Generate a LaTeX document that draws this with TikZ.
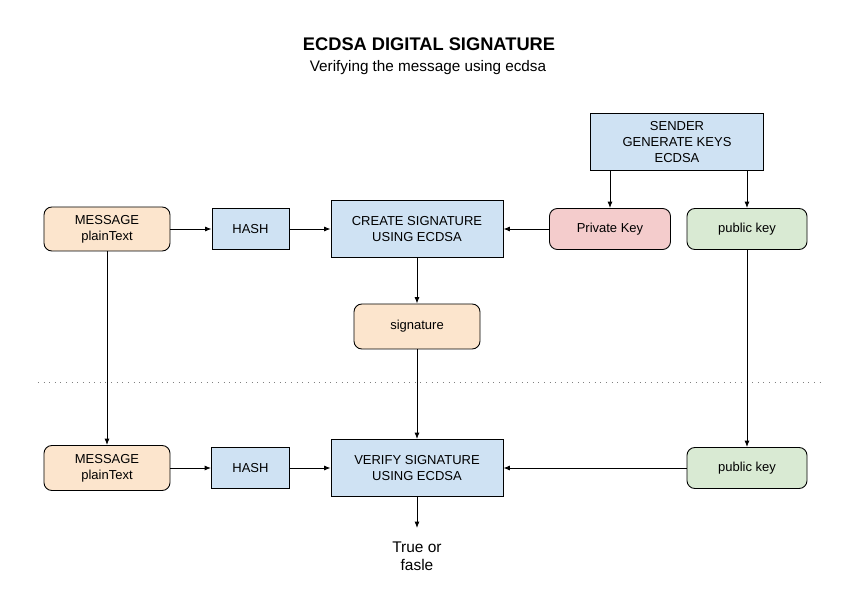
\documentclass[tikz,border=0pt]{standalone}
\usepackage{fontspec}
\setmainfont{Liberation Sans}
\usetikzlibrary{positioning}
\usetikzlibrary{arrows.meta}

\definecolor{msgorange}{HTML}{FCE5CD}
\definecolor{procblue}{HTML}{CFE2F3}
\definecolor{privred}{HTML}{F4CCCC}
\definecolor{pubgreen}{HTML}{D9EAD3}

\tikzset{
  box/.style={rectangle, draw, fill=procblue, align=center, inner sep=0pt,
    font=\fontsize{7.4}{8.9}\selectfont},
  rbox/.style={box, rounded corners=4.5pt},
}

\begin{document}
\begin{tikzpicture}[>={Latex[length=3.6pt,width=2.8pt]}, line width=0.5pt, node distance=2.86cm, on grid, auto]
   \useasboundingbox (0,0) rectangle (17.22,-12.28);
   \node[anchor=base, font=\bfseries\fontsize{10.4}{12}\selectfont] (title) at (8.58,-1.02) {ECDSA DIGITAL SIGNATURE};
   \node[anchor=base, font=\fontsize{8.7}{10}\selectfont] (subtitle) at (8.56,-1.44) {Verifying the message using ecdsa};
   % signing side
   \node[rbox, fill=msgorange, minimum width=2.52cm, minimum height=0.88cm] (msg) at (2.14,-4.58) {MESSAGE\\plainText};
   \node[box, minimum width=1.54cm, minimum height=0.82cm] (hash) [right=2.87cm of msg] {HASH};
   \node[box, minimum width=3.44cm, minimum height=1.14cm] (create) [right=3.33cm of hash] {CREATE SIGNATURE\\USING ECDSA};
   \node[rbox, fill=privred, minimum width=2.42cm, minimum height=0.82cm] (priv) [right=3.86cm of create] {Private Key};
   \node[rbox, fill=pubgreen, minimum width=2.4cm, minimum height=0.82cm] (pub) [right=2.74cm of priv] {public key};
   \node[box, minimum width=3.46cm, minimum height=1.14cm] (sender) [above right=1.74cm and 1.34cm of priv] {SENDER\\GENERATE KEYS\\ECDSA};
   \node[rbox, fill=msgorange, minimum width=2.52cm, minimum height=0.9cm] (sig) [below=1.95cm of create] {signature};
   % verifying side
   \node[rbox, fill=msgorange, minimum width=2.52cm, minimum height=0.9cm] (msgv) [below=4.78cm of msg] {MESSAGE\\plainText};
   \node[box, minimum width=1.56cm, minimum height=0.82cm] (hashv) [below=4.78cm of hash] {HASH};
   \node[box, minimum width=3.44cm, minimum height=1.14cm] (verify) [below=4.78cm of create] {VERIFY SIGNATURE\\USING ECDSA};
   \node[rbox, fill=pubgreen, minimum width=2.4cm, minimum height=0.82cm] (pubv) [below=4.78cm of pub] {public key};
   \node[align=center, inner xsep=0pt, inner ysep=0.26cm, font=\fontsize{8.8}{10.4}\selectfont] (result) [below=1.76cm of verify] {True or\\fasle};
   % separator
   \coordinate (sepl) at (0.76,-7.64);
   \coordinate (sepr) at (16.44,-7.64);
   \draw[gray, dash pattern=on 0.5pt off 2.7pt] (sepl) -- (sepr);
   \draw[->] (msg) edge (hash);
   \draw[->] (hash) edge (create);
   \draw[->] (priv) edge (create);
   \draw[->] (sender.south -| priv) -- (priv);
   \draw[->] (sender.south -| pub) -- (pub);
   \draw[->] (create) edge (sig);
   \draw[->] (sig) edge (verify);
   \draw[->] (msg) edge (msgv);
   \draw[->] (msgv) edge (hashv);
   \draw[->] (hashv) edge (verify);
   \draw[->] (pub) edge (pubv);
   \draw[->] (pubv) edge (verify);
   \draw[->] (verify) edge (result);
\end{tikzpicture}
\end{document}
